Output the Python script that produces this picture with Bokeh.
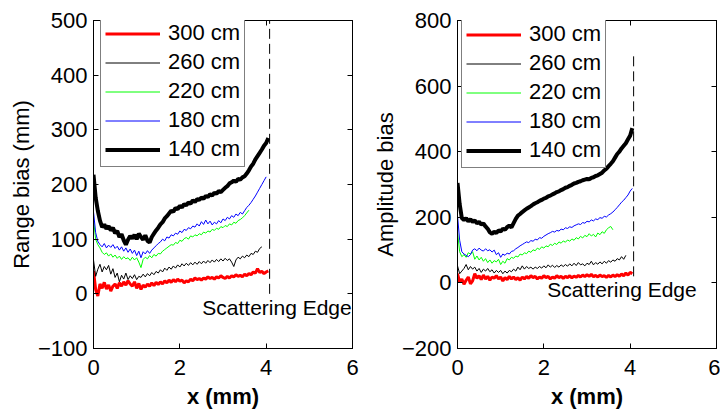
import numpy as np
from bokeh.plotting import figure
from bokeh.layouts import row
from bokeh.models import (Legend, LegendItem, LinearAxis, Label, FixedTicker, Range1d)
from bokeh.embed import file_html
from bokeh.resources import INLINE

# ---------------- data ----------------
x_step = 0.05
series_labels = ["300 cm", "260 cm", "220 cm", "180 cm", "140 cm"]
x_ticks = [0, 2, 4, 6]
left_y_ticks = [-100, 0, 100, 200, 300, 400, 500]
right_y_ticks = [-200, 0, 200, 400, 600, 800]

# Left panel: Range bias (mm)
left_300 = [42, 8, -4, 18, 10, 21, 9, 16, 5, 14, 18, 10, 20, 14, 22, 16, 24, 18, 14, 22,
            10, 19, 8, 16, 12, 18, 14, 20, 15, 21, 17, 22, 18, 24, 20, 25, 21, 26, 22, 27,
            23, 25, 20, 24, 22, 27, 24, 29, 26, 28, 25, 29, 27, 31, 28, 30, 27, 31, 29, 33,
            30, 28, 32, 29, 33, 31, 35, 32, 34, 31, 36, 33, 37, 35, 40, 38, 46, 39, 41, 37,
            40, 42]
left_260 = [62, 32, 45, 54, 40, 50, 44, 52, 36, 46, 30, 38, 22, 34, 27, 38, 26, 33, 28, 35,
            26, 32, 30, 36, 31, 37, 33, 39, 35, 41, 38, 44, 40, 47, 43, 49, 45, 51, 47, 53,
            49, 55, 51, 56, 52, 57, 53, 58, 54, 59, 55, 60, 56, 61, 57, 62, 58, 63, 59, 64,
            60, 65, 61, 64, 58, 50, 62, 67, 64, 69, 66, 71, 68, 74, 72, 78, 76, 83, 86]
left_220 = [136, 100, 90, 84, 76, 72, 75, 69, 73, 67, 71, 65, 69, 63, 68, 64, 66, 61, 67, 62,
            66, 58, 48, 63, 67, 64, 70, 66, 72, 69, 74, 73, 78, 81, 84, 87, 90, 89, 94, 92,
            98, 96, 101, 103, 100, 106, 104, 108, 106, 110, 108, 113, 111, 115, 113, 118, 116, 120, 118, 123,
            121, 125, 123, 128, 126, 131, 129, 134, 136, 139, 143, 148, 153]
left_180 = [150, 112, 96, 90, 86, 92, 84, 89, 85, 90, 83, 87, 80, 86, 78, 84, 76, 82, 74, 80,
            70, 78, 66, 77, 73, 79, 74, 80, 84, 88, 92, 95, 100, 97, 104, 102, 108, 106, 111, 109,
            115, 112, 118, 116, 121, 119, 124, 122, 128, 124, 132, 127, 135, 128, 133, 126, 131, 128, 134, 130,
            137, 134, 140, 137, 143, 140, 146, 143, 149, 146, 152, 158, 162, 167, 173, 179, 186, 193, 200, 207,
            214]
left_140 = [218, 176, 152, 134, 122, 127, 119, 124, 116, 121, 111, 115, 104, 109, 98, 90, 99, 106, 101, 108,
            100, 110, 104, 99, 107, 97, 94, 104, 110, 116, 121, 127, 131, 138, 142, 147, 152, 150, 157, 155,
            161, 158, 164, 162, 167, 165, 171, 168, 173, 172, 176, 174, 179, 177, 182, 180, 185, 183, 188, 186,
            190, 194, 197, 202, 204, 207, 205, 210, 209, 213, 215, 220, 226, 233, 238, 246, 252, 258, 264, 271,
            276, 285]

# Right panel: Amplitude bias
right_300 = [28, 2, 12, -4, 8, 18, -3, 6, 28, 14, 22, 10, 24, 12, 20, 8, 18, 14, 22, 12,
             18, 6, 16, 10, 20, 12, 18, 10, 16, 8, 18, 12, 20, 14, 22, 16, 20, 12, 18, 14,
             22, 16, 20, 12, 18, 14, 22, 16, 20, 14, 20, 16, 22, 15, 21, 17, 23, 18, 24, 19,
             25, 20, 26, 19, 23, 18, 24, 19, 22, 17, 23, 18, 24, 19, 25, 20, 27, 22, 30, 24,
             32, 28]
right_260 = [52, 28, 36, 44, 56, 40, 50, 42, 48, 36, 44, 32, 42, 36, 44, 34, 40, 30, 38, 32,
             38, 28, 36, 30, 38, 34, 42, 36, 48, 40, 52, 42, 50, 44, 48, 42, 48, 44, 50, 45,
             52, 46, 55, 48, 54, 47, 53, 48, 55, 50, 56, 51, 58, 52, 60, 53, 62, 55, 58, 52,
             60, 56, 66, 55, 62, 57, 64, 58, 66, 60, 68, 63, 70, 66, 74, 70, 80, 72, 84]
right_220 = [155, 95, 80, 86, 78, 92, 88, 95, 72, 82, 70, 78, 66, 74, 62, 70, 60, 68, 64, 72,
             56, 66, 60, 74, 70, 78, 75, 82, 79, 88, 85, 92, 89, 97, 93, 101, 98, 106, 102, 110,
             106, 113, 110, 118, 114, 121, 117, 125, 121, 128, 124, 131, 127, 134, 130, 138, 134, 142, 137, 145,
             141, 150, 143, 148, 140, 152, 147, 156, 151, 162, 168, 172, 162]
right_180 = [205, 130, 95, 88, 84, 80, 86, 100, 104, 98, 106, 100, 97, 104, 98, 101, 94, 100, 86, 92,
             78, 88, 84, 91, 88, 96, 98, 104, 108, 113, 117, 121, 125, 123, 129, 127, 133, 131, 138, 136,
             142, 146, 150, 153, 157, 155, 160, 158, 164, 162, 168, 166, 171, 169, 174, 177, 180, 178, 184, 182,
             188, 186, 192, 189, 195, 193, 199, 197, 203, 201, 207, 211, 216, 223, 230, 238, 246, 252, 260, 268,
             280, 288]
right_140 = [305, 240, 198, 192, 197, 188, 194, 186, 190, 182, 186, 178, 181, 172, 165, 154, 150, 156, 152, 160,
             157, 165, 162, 170, 175, 169, 182, 195, 205, 210, 216, 221, 226, 230, 234, 239, 243, 246, 250, 253,
             257, 259, 264, 266, 270, 273, 277, 279, 283, 286, 290, 292, 296, 299, 303, 305, 308, 310, 313, 315,
             317, 316, 320, 322, 326, 328, 332, 336, 343, 348, 356, 363, 371, 382, 393, 400, 410, 418, 426, 438,
             449, 472]

edge_x = 4.08
left_edge_y = [0, 500]
right_edge_y = [20, 700]

# ---------------- styling ----------------
FONT = "Liberation Sans"
colors = ["#ff0000", "#000000", "#00ff00", "#0000ff", "#000000"]
widths = [3, 1, 1, 1, 4]


def xs_for(vals):
    return [round(i * x_step, 2) for i in range(len(vals))]


def make_panel(series, y_lo, y_hi, y_ticks, ylabel, edge_y, text_xy, legend_loc,
               width, mbl, mbr, mbt):
    p = figure(width=width, height=416, output_backend="svg", toolbar_location=None,
               title=None, x_range=Range1d(0, 6), y_range=Range1d(y_lo, y_hi),
               min_border_left=mbl, min_border_right=mbr, min_border_top=mbt,
               min_border_bottom=68, background_fill_color="white",
               border_fill_color="white", outline_line_color="black",
               outline_line_width=1)
    p.grid.visible = False

    items = []
    for vals, lab, c, w in zip(series, series_labels, colors, widths):
        r = p.line(xs_for(vals), vals, line_color=c, line_width=w)
        items.append(LegendItem(label=lab, renderers=[r]))

    p.line([edge_x, edge_x], edge_y, line_color="black", line_width=1, line_dash="10 5")

    for ax in (p.xaxis[0], p.yaxis[0]):
        ax.major_tick_in = 5
        ax.major_tick_out = 0
        ax.minor_tick_line_color = None
        ax.axis_line_color = "black"
        ax.major_tick_line_color = "black"
        ax.major_label_text_font = FONT
        ax.major_label_text_font_size = "22px"
        ax.major_label_text_color = "black"
        ax.axis_label_text_font = FONT
        ax.axis_label_text_font_size = "22px"
        ax.axis_label_text_color = "black"
    p.xaxis[0].ticker = FixedTicker(ticks=x_ticks)
    p.yaxis[0].ticker = FixedTicker(ticks=y_ticks)
    p.xaxis[0].axis_label = "x (mm)"
    p.xaxis[0].axis_label_text_font_style = "bold"
    p.xaxis[0].major_label_standoff = 11
    p.xaxis[0].axis_label_standoff = 6
    p.yaxis[0].axis_label = ylabel
    p.yaxis[0].axis_label_text_font_style = "normal"
    p.yaxis[0].major_label_standoff = 6
    p.yaxis[0].axis_label_standoff = 1

    # inward ticks on the top and right edges (MATLAB box)
    for side, ticks in (("right", y_ticks), ("above", x_ticks)):
        ax = LinearAxis(ticker=FixedTicker(ticks=ticks), major_tick_in=5, major_tick_out=0,
                        minor_tick_line_color=None, axis_line_color="black",
                        major_label_text_color=None, major_label_text_font_size="1px",
                        major_label_standoff=0)
        p.add_layout(ax, side)

    lbl = Label(x=text_xy[0], y=text_xy[1], text="Scattering Edge", text_font=FONT,
                text_font_size="21px", text_baseline="middle", text_align="left",
                text_color="black")
    p.add_layout(lbl)

    legend = Legend(items=items, location=legend_loc, label_text_font=FONT,
                    label_text_font_size="22px", label_text_color="black",
                    glyph_width=55, glyph_height=25,
                    label_height=25, spacing=3, padding=4, label_standoff=8,
                    border_line_color="black", border_line_width=1,
                    background_fill_color="white", background_fill_alpha=1.0, margin=0)
    p.add_layout(legend)
    return p


left_series = [left_300, left_260, left_220, left_180, left_140]
right_series = [right_300, right_260, right_220, right_180, right_140]

p1 = make_panel(left_series, -100, 500, left_y_ticks, "Range bias (mm)", left_edge_y,
                (2.52, -25), (7, 181), 366, 93, 14, 18)
p2 = make_panel(right_series, -200, 800, right_y_ticks, "Amplitude bias", right_edge_y,
                (2.08, -20), (4, 180), 354, 91, 4, 20)

layout = row(p1, p2, spacing=0)
open("out.html", "w").write(file_html(layout, INLINE))
